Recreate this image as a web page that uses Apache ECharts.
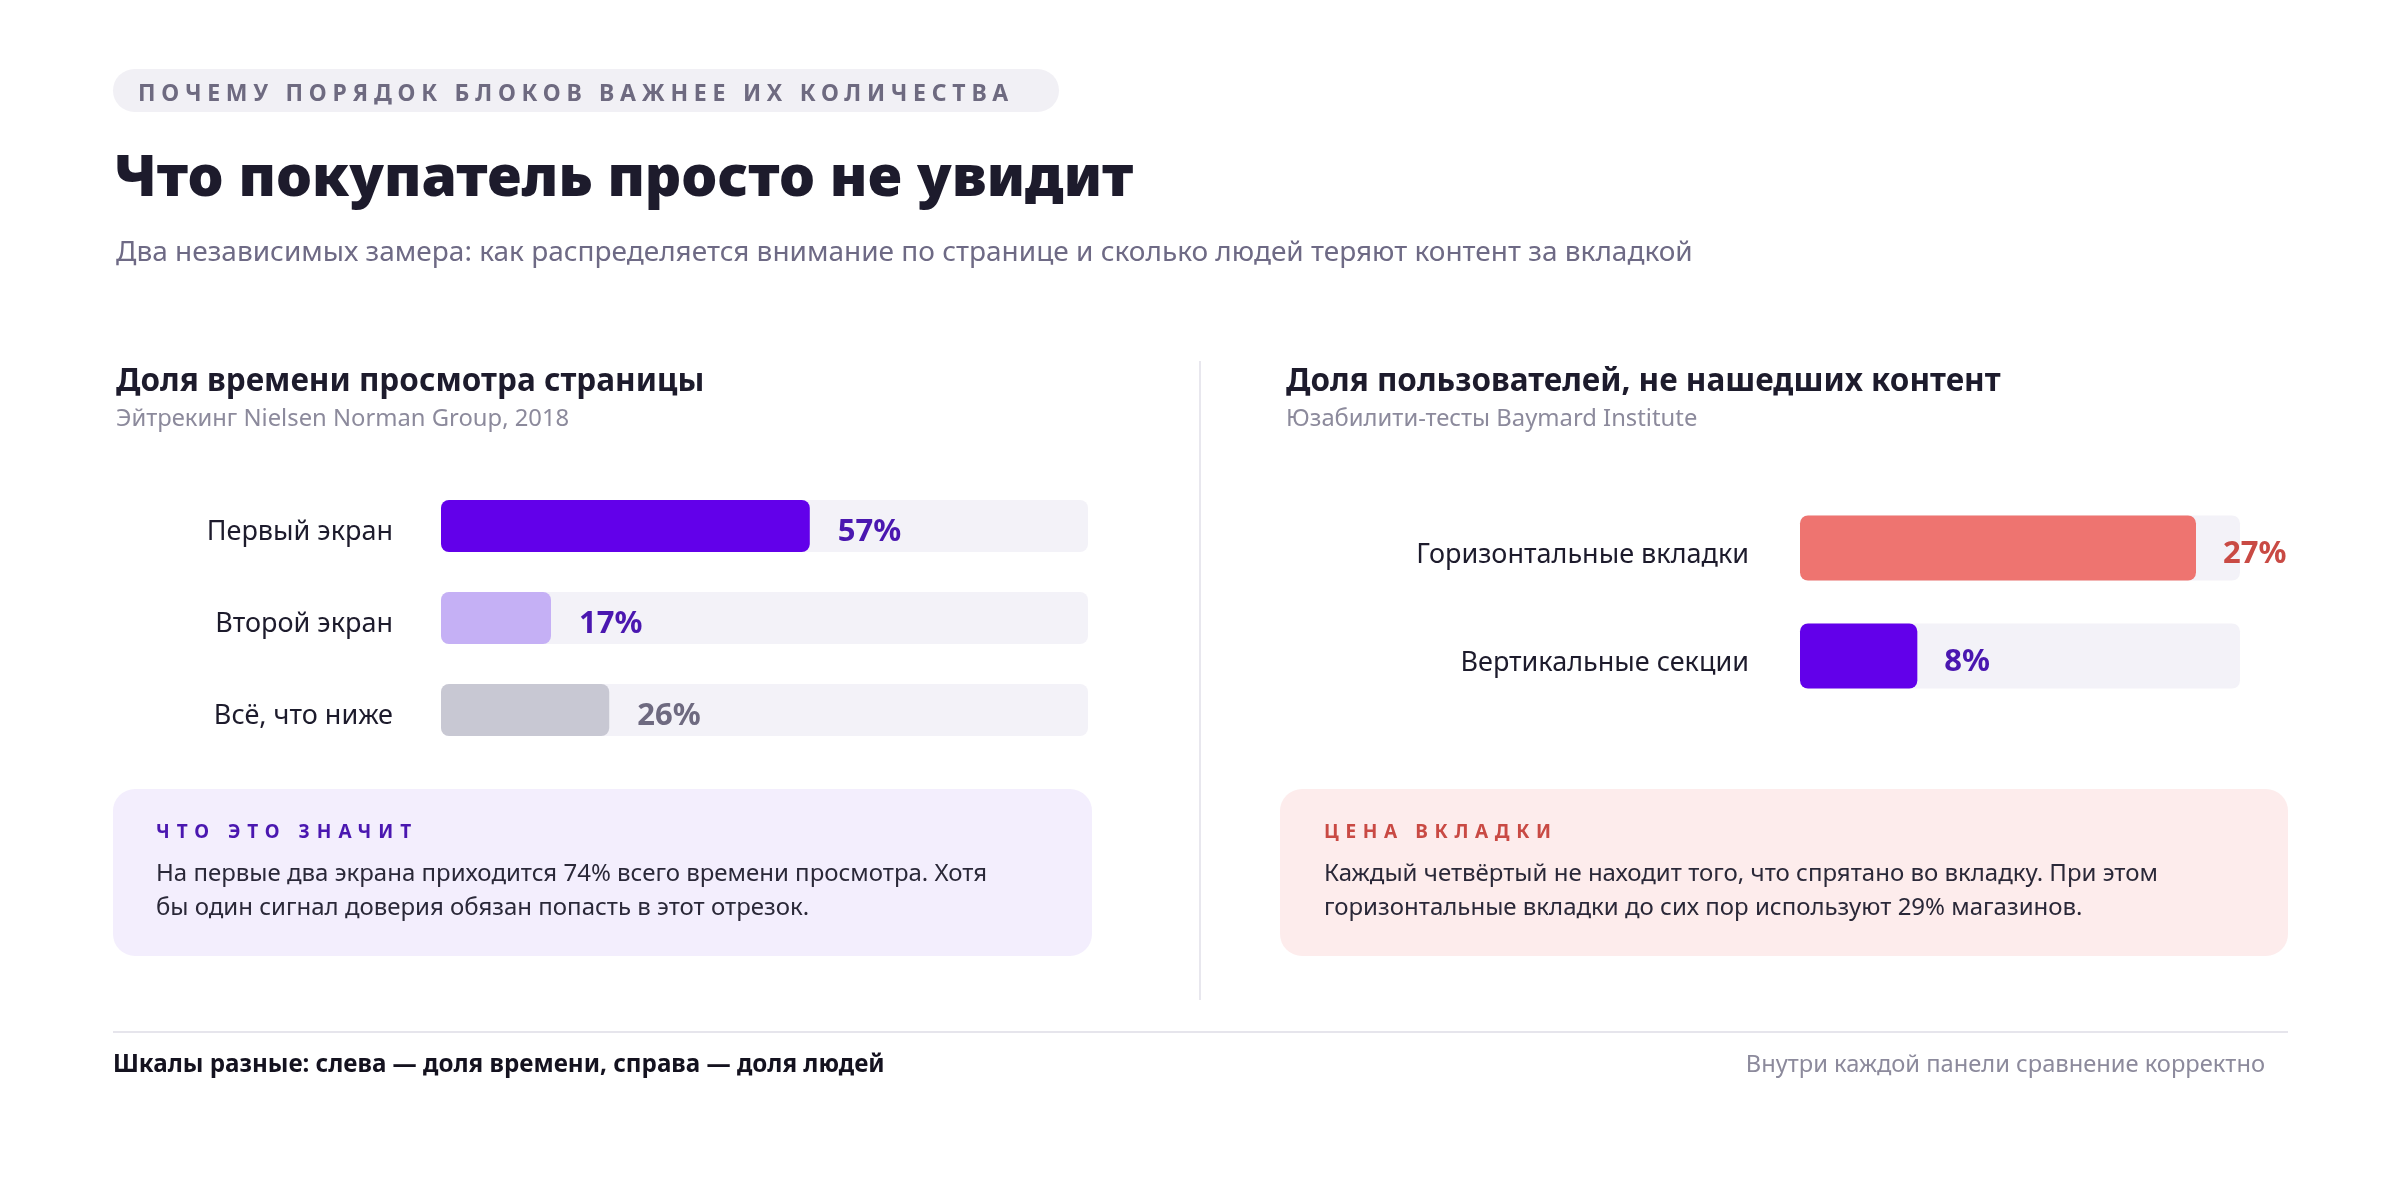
<!DOCTYPE html>
<html>
<head>
<meta charset="utf-8">
<script src="https://cdn.jsdelivr.net/npm/echarts@6/dist/echarts.min.js"></script>
<style>
  html, body { margin: 0; padding: 0; background: #fff; }
  #wrap { position: relative; width: 2400px; height: 1200px; }
  #chart { width: 2400px; height: 1200px; }
  .caps { position: absolute; font-family: 'Noto Sans', sans-serif; font-weight: 700; line-height: 1; white-space: nowrap; }
</style>
</head>
<body>
<div id="wrap">
  <div id="chart"></div>
  <div class="caps" style="left:138px;top:81px;font-size:23px;letter-spacing:0.25em;color:#6e6a80;">ПОЧЕМУ ПОРЯДОК БЛОКОВ ВАЖНЕЕ ИХ КОЛИЧЕСТВА</div>
  <div class="caps" style="left:156px;top:822px;font-size:19px;letter-spacing:0.37em;color:#4a17b0;">ЧТО ЭТО ЗНАЧИТ</div>
  <div class="caps" style="left:1324px;top:822px;font-size:19px;letter-spacing:0.35em;color:#c94a44;">ЦЕНА ВКЛАДКИ</div>
</div>
<script>
// данные
var timeCategories = ['Первый экран', 'Второй экран', 'Всё, что ниже'];
var timeValues = [57, 17, 26];
var timeColors = ['#6200ea', '#c5b0f5', '#c8c8d3'];
var timeLabelColors = ['#4a17b0', '#4a17b0', '#6e6a80'];

var tabCategories = ['Горизонтальные вкладки', 'Вертикальные секции'];
var tabValues = [27, 8];
var tabColors = ['#ee7470', '#6200ea'];
var tabLabelColors = ['#c94a44', '#4a17b0'];

var FONT = "'Noto Sans', sans-serif";

function text(x, y, str, size, weight, color, align) {
    return {
        type: 'text',
        x: x,
        y: y,
        style: {
            text: str,
            fontFamily: FONT,
            fontSize: size,
            fontWeight: weight,
            fill: color,
            align: align || 'left',
            verticalAlign: 'middle'
        },
        silent: true
    };
}

function barItems(values, colors, labelColors) {
    return values.map(function (v, i) {
        return {
            value: v,
            itemStyle: { color: colors[i] },
            label: { color: labelColors[i] }
        };
    });
}

var myChart = echarts.init(document.getElementById('chart'));

var option = {
    backgroundColor: '#ffffff',
    animation: false,
    grid: [
        { left: 441, width: 647, top: 480, height: 276 },
        { left: 1800, width: 440, top: 494, height: 216 }
    ],
    xAxis: [
        { gridIndex: 0, type: 'value', min: 0, max: 100, show: false },
        { gridIndex: 1, type: 'value', min: 0, max: 30, show: false }
    ],
    yAxis: [
        {
            gridIndex: 0, type: 'category', inverse: true, data: timeCategories,
            axisLine: { show: false }, axisTick: { show: false },
            axisLabel: { margin: 48, verticalAlign: 'top', lineHeight: 12, fontFamily: FONT, fontSize: 27, color: '#1d1b2c' }
        },
        {
            gridIndex: 1, type: 'category', inverse: true, data: tabCategories,
            axisLine: { show: false }, axisTick: { show: false },
            axisLabel: { margin: 51, verticalAlign: 'top', lineHeight: 14, fontFamily: FONT, fontSize: 27, color: '#1d1b2c' }
        }
    ],
    series: [
        {
            type: 'bar', xAxisIndex: 0, yAxisIndex: 0,
            barWidth: 52,
            data: barItems(timeValues, timeColors, timeLabelColors),
            itemStyle: { borderRadius: 8 },
            showBackground: true,
            backgroundStyle: { color: '#f3f2f8', borderRadius: 8 },
            label: {
                show: true, position: 'right', distance: 28, offset: [0, 6],
                formatter: '{c}%', fontFamily: FONT, fontSize: 31, fontWeight: 'bold'
            }
        },
        {
            type: 'bar', xAxisIndex: 1, yAxisIndex: 1,
            barWidth: 65,
            data: barItems(tabValues, tabColors, tabLabelColors),
            itemStyle: { borderRadius: 8 },
            showBackground: true,
            backgroundStyle: { color: '#f3f2f8', borderRadius: 8 },
            label: {
                show: true, position: 'right', distance: 27, offset: [0, 6],
                formatter: '{c}%', fontFamily: FONT, fontSize: 31, fontWeight: 'bold'
            }
        }
    ],
    graphic: [
        // плашка над заголовком
        { type: 'rect', shape: { x: 113, y: 69, width: 946, height: 43, r: 21.5 }, style: { fill: '#f1f0f5' }, silent: true },
        text(114, 180, 'Что покупатель просто не увидит', 57, 900, '#1d1b2c'),
        text(116, 253, 'Два независимых замера: как распределяется внимание по странице и сколько людей теряют контент за вкладкой', 28, 400, '#6e6a85'),

        // левая панель
        text(116, 382, 'Доля времени просмотра страницы', 31.5, 700, '#1d1b2c'),
        text(116, 419, 'Эйтрекинг Nielsen Norman Group, 2018', 23.8, 400, '#8c8a9c'),

        // разделитель
        { type: 'line', shape: { x1: 1200, y1: 361, x2: 1200, y2: 1000 }, style: { stroke: '#e8e7ee', lineWidth: 2 }, silent: true },

        // правая панель
        text(1286, 382, 'Доля пользователей, не нашедших контент', 31.5, 700, '#1d1b2c'),
        text(1286, 419, 'Юзабилити-тесты Baymard Institute', 23.8, 400, '#8c8a9c'),

        // выводы
        { type: 'rect', shape: { x: 113, y: 789, width: 979, height: 167, r: 22 }, style: { fill: '#f3eefd' }, silent: true },
        text(156, 874, 'На первые два экрана приходится 74% всего времени просмотра. Хотя', 24, 400, '#2a2838'),
        text(156, 908, 'бы один сигнал доверия обязан попасть в этот отрезок.', 24, 400, '#2a2838'),

        { type: 'rect', shape: { x: 1280, y: 789, width: 1008, height: 167, r: 22 }, style: { fill: '#fdecec' }, silent: true },
        text(1324, 874, 'Каждый четвёртый не находит того, что спрятано во вкладку. При этом', 24, 400, '#2a2838'),
        text(1324, 908, 'горизонтальные вкладки до сих пор используют 29% магазинов.', 24, 400, '#2a2838'),

        // подвал
        { type: 'line', shape: { x1: 113, y1: 1032, x2: 2288, y2: 1032 }, style: { stroke: '#e6e5ec', lineWidth: 2 }, silent: true },
        text(113, 1065, 'Шкалы разные: слева — доля времени, справа — доля людей', 24.2, 700, '#14121f'),
        text(2265, 1065, 'Внутри каждой панели сравнение корректно', 23.7, 400, '#8c8a9c', 'right')
    ]
};

myChart.setOption(option);
</script>
</body>
</html>
